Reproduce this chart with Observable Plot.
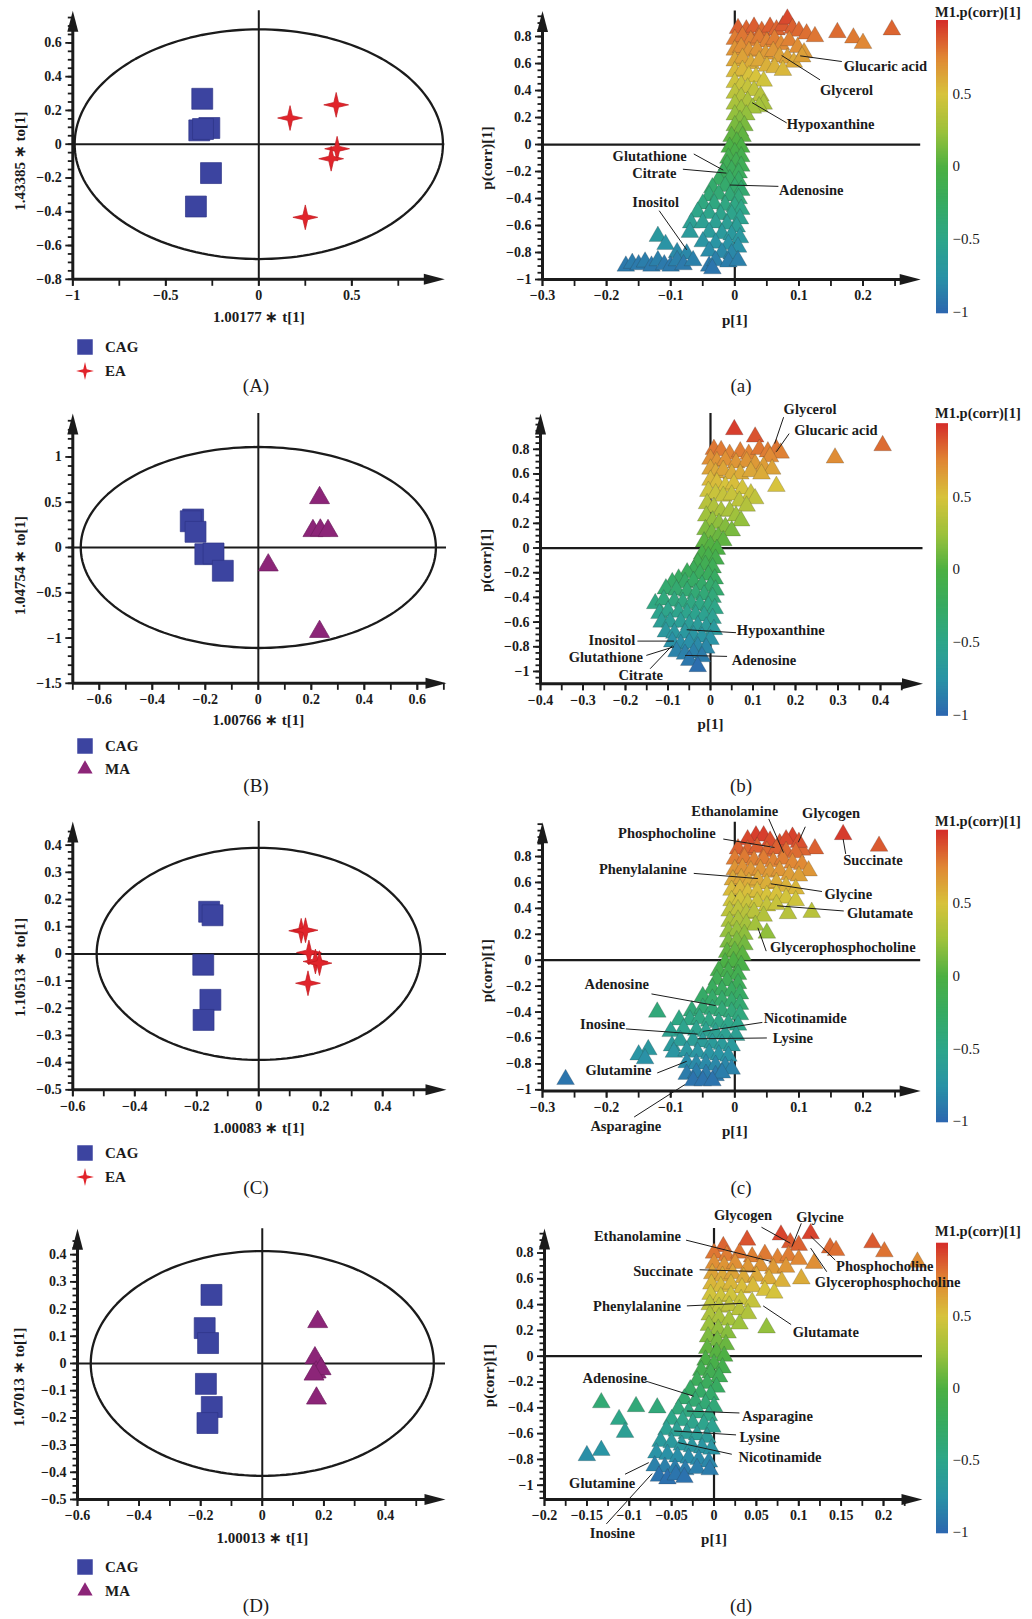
<!DOCTYPE html>
<html><head><meta charset="utf-8">
<script src="https://cdn.jsdelivr.net/npm/d3@7"></script>
<script src="https://cdn.jsdelivr.net/npm/@observablehq/plot@0.6"></script>
<style>
html,body{margin:0;padding:0;background:#fff;}
#root{position:relative;width:1032px;height:1619px;overflow:hidden;font-family:"Liberation Serif","Times New Roman",serif;color:#1b1b1b;}
.t{position:absolute;white-space:nowrap;line-height:1;transform:translate(-50%,-50%);}
.l{position:absolute;white-space:nowrap;line-height:1;transform:translate(0,-50%);font-weight:bold;font-size:15px;}
</style></head><body><div id="root"></div>
<script>
// ---------------- DATA ----------------
const groupNames = ["CAG", "EA", "MA"];
const groupColors = ["#3c44a0", "#e1242b", "#8c2578"];

// Score plots: [t[1], to[1]]
const scoreA_CAG = [[-0.304,0.269],[-0.266,0.096],[-0.32,0.082],[-0.30,0.09],[-0.257,-0.171],[-0.338,-0.369]];
const scoreA_EA  = [[0.168,0.155],[0.416,0.233],[0.421,-0.027],[0.389,-0.086],[0.25,-0.433]];
const scoreB_CAG = [[-0.246,0.309],[-0.255,0.29],[-0.237,0.173],[-0.2,-0.074],[-0.169,-0.066],[-0.134,-0.257]];
const scoreB_MA  = [[0.231,0.548],[0.206,0.184],[0.234,0.19],[0.263,0.184],[0.0375,-0.195],[0.231,-0.93]];
const scoreC_CAG = [[-0.16,0.155],[-0.149,0.142],[-0.179,-0.04],[-0.156,-0.169],[-0.178,-0.243]];
const scoreC_EA  = [[0.137,0.085],[0.151,0.087],[0.162,0.005],[0.183,-0.028],[0.196,-0.034],[0.159,-0.108]];
const scoreD_CAG = [[-0.165,0.252],[-0.187,0.13],[-0.176,0.075],[-0.183,-0.075],[-0.164,-0.16],[-0.178,-0.219]];
const scoreD_MA  = [[0.18,0.153],[0.171,0.02],[0.175,-0.032],[0.191,-0.02],[0.168,-0.04],[0.176,-0.128]];
// Hotelling ellipse semi-axes [t, to]
const ellipseA = [0.99, 0.68], ellipseB = [0.67, 1.11], ellipseC = [0.523, 0.39], ellipseD = [0.557, 0.413];
const axisTitlesX = ["1.00177 \u2217 t[1]", "1.00766 \u2217 t[1]", "1.00083 \u2217 t[1]", "1.00013 \u2217 t[1]"];
const axisTitlesY = ["1.43385 \u2217 to[1]", "1.04754 \u2217 to[1]", "1.10513 \u2217 to[1]", "1.07013 \u2217 to[1]"];
const captionsUpper = ["(A)", "(B)", "(C)", "(D)"];
const captionsLower = ["(a)", "(b)", "(c)", "(d)"];

// S-plots: [p[1], p(corr)[1]]
const splotA = [
[0.005,0.86],[0.018,0.85],[0.03,0.87],[0.042,0.84],[0.055,0.87],[0.065,0.85],[0.075,0.88],[0.082,0.93],[0.09,0.86],[0.1,0.84],[0.112,0.82],[0.125,0.8],[0.16,0.83],[0.185,0.79],[0.2,0.75],[0.245,0.85],
[0.0,0.78],[0.012,0.8],[0.025,0.77],[0.038,0.79],[0.05,0.76],[0.062,0.78],[0.072,0.74],[0.085,0.77],[0.098,0.72],[0.108,0.68],
[0.0,0.7],[0.01,0.72],[0.022,0.69],[0.035,0.7],[0.048,0.67],[0.06,0.69],[0.07,0.65],[0.082,0.64],[0.092,0.61],[0.105,0.65],
[0.0,0.62],[0.012,0.64],[0.025,0.6],[0.038,0.62],[0.05,0.58],[0.062,0.57],[0.075,0.55],
[0.0,0.54],[0.012,0.55],[0.022,0.51],[0.033,0.5],[0.045,0.47],
[0.0,0.46],[0.01,0.44],[0.02,0.42],[0.03,0.4],[0.04,0.36],[0.045,0.3],[0.038,0.28],
[0.0,0.38],[0.01,0.35],[0.02,0.32],[0.028,0.27],
[0.0,0.3],[0.01,0.26],[0.018,0.22],[0.0,0.22],[0.008,0.18],[0.015,0.14],[0.0,0.14],[0.008,0.1],[0.012,0.06],
[-0.005,0.06],[0.003,0.02],[0.01,-0.02],[-0.008,-0.02],[0.0,-0.06],[0.01,-0.09],[-0.01,-0.1],[0.002,-0.13],[0.01,-0.16],[-0.012,-0.15],[-0.005,-0.19],[0.006,-0.21],[-0.018,-0.21],
[-0.025,-0.26],[-0.008,-0.26],[0.006,-0.27],[-0.035,-0.32],[-0.015,-0.31],[0.0,-0.32],[0.01,-0.34],[-0.04,-0.38],[-0.025,-0.37],[-0.008,-0.38],[0.006,-0.4],
[-0.05,-0.44],[-0.032,-0.44],[-0.015,-0.45],[0.0,-0.46],[0.01,-0.48],[-0.058,-0.5],[-0.04,-0.51],[-0.022,-0.52],[-0.005,-0.52],[0.008,-0.55],
[-0.068,-0.58],[-0.05,-0.58],[-0.03,-0.58],[-0.012,-0.59],[0.003,-0.61],[-0.07,-0.65],[-0.04,-0.65],[-0.02,-0.66],[-0.005,-0.67],[0.008,-0.69],
[-0.12,-0.68],[-0.108,-0.74],[-0.05,-0.72],[-0.03,-0.73],[-0.01,-0.74],[0.005,-0.76],
[-0.09,-0.8],[-0.075,-0.81],[-0.04,-0.79],[-0.02,-0.8],[-0.005,-0.81],
[-0.17,-0.9],[-0.16,-0.88],[-0.15,-0.89],[-0.14,-0.87],[-0.13,-0.9],[-0.12,-0.86],[-0.11,-0.89],[-0.1,-0.9],[-0.09,-0.86],[-0.08,-0.89],[-0.065,-0.86],[-0.04,-0.9],[-0.03,-0.86],[-0.01,-0.87],[0.005,-0.86],[-0.035,-0.92]
];
const splotB = [
[0.056,0.96],[0.105,0.9],[0.293,0.73],[0.405,0.83],
[0.008,0.8],[0.025,0.79],[0.045,0.76],[0.07,0.78],[0.09,0.76],[0.115,0.8],[0.135,0.78],[0.155,0.8],[0.165,0.77],[0.14,0.74],
[0.0,0.72],[0.015,0.7],[0.035,0.71],[0.06,0.69],[0.085,0.7],[0.105,0.68],[0.125,0.66],[0.145,0.64],
[0.0,0.64],[0.012,0.61],[0.03,0.63],[0.05,0.6],[0.07,0.6],[0.095,0.62],[0.12,0.6],[0.155,0.5],
[0.0,0.55],[0.015,0.53],[0.035,0.5],[0.055,0.52],[0.075,0.48],[0.095,0.44],[0.105,0.4],
[-0.005,0.46],[0.012,0.44],[0.03,0.42],[0.05,0.43],[0.068,0.38],[0.085,0.34],
[-0.008,0.36],[0.008,0.33],[0.025,0.3],[0.045,0.3],[0.06,0.26],[0.072,0.22],
[-0.01,0.26],[0.005,0.22],[0.02,0.2],[0.035,0.17],[0.05,0.14],
[-0.012,0.15],[0.003,0.12],[0.018,0.09],[0.03,0.06],[-0.015,0.05],[0.0,0.02],[0.015,-0.01],
[-0.02,-0.05],[-0.005,-0.07],[0.012,-0.09],[-0.03,-0.12],[-0.012,-0.14],[0.005,-0.16],
[-0.04,-0.18],[-0.055,-0.2],[-0.025,-0.21],[-0.005,-0.22],[0.01,-0.25],
[-0.075,-0.25],[-0.09,-0.28],[-0.06,-0.28],[-0.04,-0.27],[-0.02,-0.3],[0.0,-0.31],[0.012,-0.34],
[-0.105,-0.33],[-0.08,-0.34],[-0.055,-0.35],[-0.035,-0.37],[-0.015,-0.38],[0.005,-0.4],
[-0.13,-0.45],[-0.11,-0.42],[-0.085,-0.43],[-0.065,-0.44],[-0.045,-0.45],[-0.025,-0.46],[-0.005,-0.47],[0.01,-0.49],
[-0.12,-0.53],[-0.1,-0.51],[-0.075,-0.52],[-0.055,-0.53],[-0.035,-0.54],[-0.015,-0.55],[0.005,-0.57],
[-0.115,-0.6],[-0.095,-0.6],[-0.07,-0.6],[-0.05,-0.62],[-0.03,-0.63],[-0.01,-0.64],[0.008,-0.66],
[-0.105,-0.68],[-0.085,-0.69],[-0.06,-0.69],[-0.04,-0.71],[-0.02,-0.72],[0.0,-0.74],
[-0.09,-0.76],[-0.07,-0.78],[-0.05,-0.77],[-0.03,-0.8],[-0.01,-0.81],
[-0.08,-0.84],[-0.06,-0.86],[-0.04,-0.85],[-0.02,-0.88],[-0.05,-0.91],[-0.03,-0.96]
];
const splotC = [
[0.169,0.97],[0.225,0.88],[0.033,0.96],[0.045,0.96],[0.09,0.95],[0.125,0.86],[0.105,0.85],
[0.02,0.93],[0.055,0.92],[0.07,0.9],[0.08,0.93],[0.1,0.91],
[0.005,0.86],[0.02,0.85],[0.035,0.87],[0.05,0.84],[0.065,0.86],[0.08,0.84],[0.095,0.83],
[0.0,0.78],[0.015,0.79],[0.03,0.77],[0.045,0.78],[0.06,0.76],[0.075,0.78],[0.09,0.75],[0.105,0.74],[0.115,0.69],
[0.0,0.7],[0.012,0.71],[0.025,0.69],[0.04,0.7],[0.055,0.68],[0.07,0.69],[0.085,0.66],[0.1,0.65],
[-0.003,0.62],[0.01,0.63],[0.022,0.6],[0.036,0.62],[0.05,0.59],[0.065,0.6],[0.08,0.57],[0.095,0.55],
[-0.005,0.54],[0.008,0.55],[0.02,0.52],[0.035,0.53],[0.05,0.5],[0.065,0.51],[0.08,0.48],[0.095,0.46],
[-0.005,0.46],[0.008,0.47],[0.02,0.44],[0.035,0.45],[0.05,0.42],[0.065,0.43],[0.083,0.36],[0.12,0.37],
[-0.008,0.38],[0.005,0.39],[0.018,0.36],[0.03,0.37],[0.045,0.34],
[-0.008,0.3],[0.005,0.31],[0.018,0.28],[0.032,0.27],[0.05,0.21],
[-0.01,0.22],[0.003,0.23],[0.015,0.2],[-0.01,0.14],[0.003,0.15],[0.015,0.12],
[-0.012,0.06],[0.0,0.07],[0.012,0.04],[-0.015,-0.02],[-0.002,-0.01],[0.01,-0.04],
[-0.025,-0.08],[-0.01,-0.09],[0.005,-0.11],[-0.028,-0.15],[-0.012,-0.16],[0.005,-0.18],
[-0.035,-0.22],[-0.02,-0.23],[-0.005,-0.24],[0.008,-0.26],
[-0.05,-0.28],[-0.035,-0.3],[-0.02,-0.31],[-0.005,-0.32],[0.008,-0.34],
[-0.067,-0.39],[-0.121,-0.4],[-0.05,-0.37],[-0.035,-0.38],[-0.02,-0.39],[-0.005,-0.4],[0.008,-0.42],
[-0.087,-0.46],[-0.07,-0.46],[-0.055,-0.45],[-0.04,-0.47],[-0.025,-0.48],[-0.01,-0.49],[0.005,-0.5],
[-0.1,-0.55],[-0.08,-0.53],[-0.06,-0.54],[-0.045,-0.55],[-0.03,-0.56],[-0.015,-0.57],[0.002,-0.58],
[-0.098,-0.66],[-0.085,-0.62],[-0.065,-0.62],[-0.05,-0.63],[-0.035,-0.64],[-0.02,-0.65],[-0.005,-0.66],
[-0.135,-0.69],[-0.15,-0.73],[-0.14,-0.76],[-0.095,-0.71],[-0.075,-0.7],[-0.058,-0.71],[-0.04,-0.72],[-0.025,-0.73],[-0.01,-0.74],
[-0.075,-0.79],[-0.06,-0.8],[-0.045,-0.8],[-0.03,-0.81],[-0.015,-0.82],[-0.005,-0.84],
[-0.075,-0.88],[-0.06,-0.87],[-0.045,-0.88],[-0.03,-0.89],[-0.02,-0.87],[-0.065,-0.93],[-0.05,-0.93],[-0.035,-0.93],
[-0.264,-0.92]
];
const splotD = [
[0.011,0.85],[0.039,0.9],[0.079,0.94],[0.114,0.95],[0.09,0.88],[0.1,0.86],[0.137,0.84],[0.144,0.82],[0.187,0.88],[0.201,0.81],[0.24,0.73],[0.118,0.72],
[0.0,0.8],[0.015,0.78],[0.03,0.8],[0.045,0.77],[0.06,0.79],[0.075,0.76],[0.088,0.78],[0.1,0.75],
[0.0,0.72],[0.012,0.7],[0.025,0.72],[0.04,0.69],[0.055,0.7],[0.07,0.68],[0.085,0.69],
[-0.002,0.64],[0.01,0.62],[0.022,0.64],[0.035,0.61],[0.05,0.62],[0.065,0.6],[0.08,0.58],[0.103,0.6],
[-0.003,0.56],[0.008,0.54],[0.02,0.56],[0.033,0.53],[0.046,0.54],[0.06,0.51],[0.071,0.49],
[-0.004,0.48],[0.008,0.46],[0.02,0.47],[0.032,0.44],[0.045,0.42],
[-0.005,0.4],[0.006,0.38],[0.018,0.39],[0.03,0.36],[0.04,0.33],
[-0.005,0.32],[0.006,0.3],[0.018,0.28],[0.03,0.25],[0.062,0.22],
[-0.006,0.24],[0.005,0.21],[0.016,0.18],[-0.007,0.15],[0.004,0.12],[0.014,0.09],
[-0.008,0.06],[0.003,0.03],[0.012,0.0],[-0.01,-0.03],[0.0,-0.06],[0.01,-0.09],
[-0.015,-0.11],[-0.004,-0.13],[0.006,-0.16],[-0.02,-0.19],[-0.008,-0.21],[0.003,-0.24],
[-0.028,-0.26],[-0.016,-0.28],[-0.004,-0.3],[-0.035,-0.33],[-0.022,-0.35],[-0.01,-0.37],[0.0,-0.39],
[-0.042,-0.41],[-0.03,-0.43],[-0.018,-0.44],[-0.006,-0.46],
[-0.05,-0.49],[-0.037,-0.5],[-0.025,-0.52],[-0.012,-0.53],[-0.002,-0.55],
[-0.056,-0.57],[-0.044,-0.58],[-0.032,-0.6],[-0.02,-0.61],[-0.008,-0.63],
[-0.063,-0.66],[-0.05,-0.67],[-0.038,-0.69],[-0.026,-0.7],[-0.014,-0.71],[-0.003,-0.72],
[-0.068,-0.75],[-0.055,-0.76],[-0.043,-0.78],[-0.03,-0.79],[-0.018,-0.8],[-0.006,-0.82],
[-0.07,-0.85],[-0.058,-0.86],[-0.046,-0.87],[-0.034,-0.88],[-0.02,-0.87],[-0.005,-0.88],
[-0.065,-0.93],[-0.055,-0.95],[-0.045,-0.92],[-0.035,-0.94],
[-0.133,-0.36],[-0.092,-0.39],[-0.067,-0.4],[-0.112,-0.49],[-0.105,-0.59],[-0.15,-0.77],[-0.133,-0.73]
];

// Annotations: [name, anchor, textX, textY, leaderFromX, leaderFromY, leaderToX, leaderToY]
const labelsA = [
["Glucaric acid","start",0.17,0.58,0.167,0.615,0.102,0.657],
["Glycerol","start",0.133,0.405,0.133,0.479,0.073,0.66],
["Hypoxanthine","start",0.081,0.146,0.081,0.16,0.027,0.31],
["Glutathione","end",-0.075,-0.084,-0.064,-0.07,-0.018,-0.19],
["Citrate","end",-0.091,-0.212,-0.081,-0.183,-0.013,-0.212],
["Adenosine","start",0.069,-0.336,0.068,-0.31,-0.008,-0.30],
["Inositol","end",-0.087,-0.43,-0.118,-0.49,-0.075,-0.78]
];
const labelsB = [
["Glycerol","start",0.172,1.12,0.172,1.06,0.151,0.846],
["Glucaric acid","start",0.197,0.954,0.185,0.927,0.155,0.78],
["Hypoxanthine","start",0.062,-0.668,0.06,-0.686,-0.056,-0.662],
["Inositol","end",-0.177,-0.749,-0.172,-0.754,-0.086,-0.754],
["Glutathione","end",-0.159,-0.889,-0.151,-0.87,-0.086,-0.8],
["Citrate","end",-0.112,-1.03,-0.142,-0.978,-0.09,-0.79],
["Adenosine","start",0.05,-0.91,0.039,-0.878,-0.06,-0.87]
];
const labelsC = [
["Ethanolamine","start",-0.068,1.15,0.053,1.09,0.076,0.83],
["Glycogen","start",0.105,1.13,0.11,1.03,0.099,0.91],
["Phosphocholine","end",-0.03,0.98,-0.018,0.935,0.062,0.87],
["Succinate","start",0.169,0.77,0.173,0.82,0.169,0.935],
["Phenylalanine","end",-0.075,0.70,-0.064,0.67,0.036,0.63],
["Glycine","start",0.14,0.51,0.136,0.53,0.056,0.59],
["Glutamate","start",0.175,0.363,0.17,0.38,0.066,0.42],
["Glycerophosphocholine","start",0.055,0.1,0.049,0.07,0.036,0.25],
["Adenosine","end",-0.134,-0.19,-0.13,-0.26,-0.03,-0.35],
["Nicotinamide","start",0.045,-0.45,0.043,-0.48,-0.05,-0.55],
["Inosine","end",-0.171,-0.495,-0.17,-0.53,-0.058,-0.57],
["Lysine","start",0.059,-0.6,0.05,-0.6,-0.058,-0.606],
["Glutamine","end",-0.13,-0.85,-0.121,-0.87,-0.075,-0.78],
["Asparagine","middle",-0.17,-1.28,-0.157,-1.21,-0.078,-0.96]
];
const labelsD = [
["Glycogen","start",0.0,1.09,0.056,1.0,0.09,0.876],
["Glycine","start",0.097,1.08,0.103,1.03,0.092,0.85],
["Ethanolamine","end",-0.039,0.93,-0.033,0.9,0.067,0.735],
["Phosphocholine","start",0.144,0.70,0.143,0.745,0.114,0.93],
["Glycerophosphocholine","start",0.119,0.57,0.133,0.655,0.114,0.838],
["Succinate","end",-0.025,0.66,-0.017,0.67,0.049,0.657],
["Phenylalanine","end",-0.039,0.39,-0.032,0.39,0.034,0.41],
["Glutamate","start",0.093,0.188,0.091,0.245,0.058,0.39],
["Adenosine","end",-0.079,-0.175,-0.082,-0.19,-0.024,-0.31],
["Asparagine","start",0.033,-0.464,0.03,-0.44,-0.032,-0.425],
["Lysine","start",0.03,-0.63,0.026,-0.61,-0.047,-0.58],
["Nicotinamide","start",0.029,-0.786,0.021,-0.76,-0.042,-0.67],
["Glutamine","end",-0.093,-0.985,-0.105,-0.915,-0.077,-0.825],
["Inosine","middle",-0.12,-1.37,-0.127,-1.3,-0.073,-0.91]
];
const colorbarTicks = [-1, -0.5, 0, 0.5];
const colorbarTitle = "M1.p(corr)[1]";
const corrStops = [-1,-0.75,-0.5,-0.25,0,0.25,0.5,0.75,1];
const corrColors = ["#2d67b0","#2a93a6","#2ea68a","#37ab62","#4db043","#9ec23c","#d7c33c","#e08835","#d5302b"];

// ---------------- HELPERS ----------------
const INK = "#1b1b1b";
const root = document.getElementById("root");
const fmt = d => { const v = Math.round(d * 1000) / 1000; return v === 0 ? "0" : (v < 0 ? "\u2212" : "") + String(Math.abs(v)); };
const rng = (a, b, s) => d3.range(Math.round((b - a) / s) + 1).map(i => Math.round((a + i * s) * 1000) / 1000);
const corrScale = {type: "linear", domain: corrStops, range: corrColors, interpolate: "rgb"};

const arrowUp = {draw(ctx) { ctx.moveTo(0, 0); ctx.lineTo(-5.5, 21); ctx.lineTo(5.5, 21); ctx.closePath(); }};
const arrowRight = {draw(ctx) { ctx.moveTo(0, 0); ctx.lineTo(-21, -5.5); ctx.lineTo(-21, 5.5); ctx.closePath(); }};
const star4 = {draw(ctx, size) {
  const R = Math.sqrt(size / Math.PI) * 2, r = R * 0.27;
  for (let i = 0; i < 8; i++) {
    const a = i * Math.PI / 4 - Math.PI / 2, rad = i % 2 === 0 ? R : r;
    const x = rad * Math.cos(a), y = rad * Math.sin(a);
    if (i === 0) ctx.moveTo(x, y); else ctx.lineTo(x, y);
  }
  ctx.closePath();
}};

function box(svgL, svgT, svgW, svgH, fx0, fx1, fy0, fy1) {
  return {width: svgW, height: svgH, marginLeft: fx0 - svgL, marginRight: svgL + svgW - fx1,
          marginTop: fy0 - svgT, marginBottom: svgT + svgH - fy1, _l: svgL, _t: svgT};
}
function mount(svg, b) {
  svg.style.position = "absolute";
  svg.style.left = b._l + "px";
  svg.style.top = b._t + "px";
  root.appendChild(svg);
}
const baseStyle = {fontFamily: "'Liberation Serif','Times New Roman',serif", fontSize: "14px", fontWeight: "700",
  color: INK, background: "transparent", overflow: "visible"};

function axes(p) {
  const [x0, x1] = p.xDomain, [y0, y1] = p.yDomain;
  return [
    Plot.ruleX([x0], {stroke: INK, strokeWidth: 3, insetTop: 14}),
    Plot.ruleY([y0], {stroke: INK, strokeWidth: 3, insetRight: 14}),
    Plot.dot([{x: x0, y: y1}], {x: "x", y: "y", symbol: arrowUp, r: 5, fill: INK}),
    Plot.dot([{x: x1, y: y0}], {x: "x", y: "y", symbol: arrowRight, r: 5, fill: INK}),
    Plot.axisX({ticks: p.xMinor, tickSize: 7, tickFormat: () => "", strokeWidth: 1.8, label: null}),
    Plot.axisX({ticks: p.xMajor, tickSize: 7, tickPadding: 4, tickFormat: fmt, strokeWidth: 1.8, label: null}),
    Plot.axisY({ticks: p.yMinor, tickSize: 4.5, tickFormat: () => "", strokeWidth: 1.8, label: null}),
    Plot.axisY({ticks: p.yMajor, tickSize: 7, tickPadding: 4, tickFormat: fmt, strokeWidth: 1.8, label: null})
  ];
}
function titles(p) {
  return [
    Plot.text([{x: 0, t: p.xTitle}], {x: "x", text: "t", frameAnchor: "bottom", dy: p.xTitleDy,
      textAnchor: "middle", lineAnchor: "middle", fontSize: 15, fontWeight: "bold"}),
    Plot.text([{y: p.yTitleAt, t: p.yTitle}], {y: "y", text: "t", frameAnchor: "left", dx: p.yTitleDx, rotate: -90,
      textAnchor: "middle", lineAnchor: "middle", fontSize: 15, fontWeight: "bold"})
  ];
}

function scorePanel(p) {
  const b = p.box;
  const ell = d3.range(0, 361, 2).map(t => [p.ellipse[0] * Math.cos(t * Math.PI / 180), p.ellipse[1] * Math.sin(t * Math.PI / 180)]);
  const svg = Plot.plot({
    ...b, style: baseStyle,
    x: {domain: p.xDomain}, y: {domain: p.yDomain},
    marks: [
      Plot.line(ell, {x: d => d[0], y: d => d[1], stroke: INK, strokeWidth: 2.3}),
      Plot.ruleX([0], {stroke: INK, strokeWidth: 2}),
      Plot.ruleY([0], {stroke: INK, strokeWidth: 2}),
      ...axes(p),
      ...p.groups.map(g => Plot.dot(g.data, {x: d => d[0], y: d => d[1], symbol: g.symbol, r: g.r, fill: g.fill, stroke: g.stroke, strokeWidth: 0.7})),
      ...titles(p)
    ]
  });
  mount(svg, b);
}

function sPanel(p) {
  const b = p.box;
  const L = p.labels.map(d => ({name: d[0], anchor: d[1], tx: d[2], ty: d[3], x1: d[4], y1: d[5], x2: d[6], y2: d[7]}));
  const svg = Plot.plot({
    ...b, style: baseStyle,
    x: {domain: p.xDomain}, y: {domain: p.yDomain}, color: corrScale,
    marks: [
      Plot.ruleX([0], {stroke: INK, strokeWidth: 2.2}),
      Plot.ruleY([0], {stroke: INK, strokeWidth: 2.2}),
      ...axes(p),
      Plot.dot(p.data, {x: d => d[0], y: d => d[1], fill: d => d[1], symbol: "triangle", r: 6.6, stroke: "rgba(50,50,50,0.35)", strokeWidth: 0.6}),
      Plot.link(L, {x1: "x1", y1: "y1", x2: "x2", y2: "y2", stroke: INK, strokeWidth: 1}),
      ...["start", "middle", "end"].map(a => Plot.text(L.filter(d => d.anchor === a), {x: "tx", y: "ty", text: "name", textAnchor: a, fontSize: 14.5, fontWeight: "bold"})),
      ...titles(p)
    ]
  });
  mount(svg, b);
}

function colorbar(b, titleY) {
  const vals = rng(-1, 1, 0.004);
  const svg = Plot.plot({
    ...b, style: {...baseStyle, fontWeight: "400", fontSize: "15px"},
    y: {domain: [-1, 1]}, color: corrScale,
    marks: [
      Plot.ruleY(vals, {y: d => d, stroke: d => d, strokeWidth: 1.6}),
      Plot.axisY({anchor: "right", ticks: colorbarTicks, tickSize: 0, tickPadding: 4, tickFormat: fmt, label: null})
    ]
  });
  mount(svg, b);
  const t = document.createElement("div");
  t.className = "l"; t.textContent = colorbarTitle;
  t.style.left = "935px"; t.style.top = titleY + "px"; t.style.fontSize = "14.5px";
  root.appendChild(t);
}

function symbolSvg(sym, size, color) {
  const path = d3.path();
  const s = sym === "star" ? star4 : sym === "square" ? d3.symbolSquare : d3.symbolTriangle;
  s.draw(path, size);
  return `<svg width="24" height="24" viewBox="-12 -12 24 24" style="position:absolute;left:-12px;top:-12px"><path d="${path}" fill="${color}"/></svg>`;
}
function legend(items, y0, y1) {
  items.forEach((it, i) => {
    const y = i === 0 ? y0 : y1;
    const s = document.createElement("div");
    s.style.position = "absolute"; s.style.left = "85px"; s.style.top = y + "px";
    s.innerHTML = symbolSvg(it.sym, it.size, it.color);
    root.appendChild(s);
    const t = document.createElement("div");
    t.className = "l"; t.textContent = it.name;
    t.style.left = "105px"; t.style.top = y + "px";
    root.appendChild(t);
  });
}
function caption(txt, x, y) {
  const d = document.createElement("div");
  d.className = "t"; d.textContent = txt;
  d.style.left = x + "px"; d.style.top = y + "px"; d.style.fontSize = "19px";
  root.appendChild(d);
}

// ---------------- BUILD ----------------
// colour bars first, so the S-plot labels are drawn over them as in the original
colorbar(box(920, 0, 112, 335, 936, 948, 20.3, 312), 11.5);
colorbar(box(920, 400, 112, 335, 936, 948, 423.5, 714.5), 413);
colorbar(box(920, 800, 112, 345, 936, 948, 830, 1121), 821);
colorbar(box(920, 1200, 112, 350, 936, 948, 1243, 1532), 1231);

const CAG = {fill: groupColors[0], stroke: "#2e3587", symbol: "square", r: 11.8};
const EA = {fill: groupColors[1], stroke: "#c01a20", symbol: star4, r: 6.2};
const MA = {fill: groupColors[2], stroke: "#6e1c5e", symbol: "triangle", r: 7.4};

scorePanel({box: box(0, 0, 470, 335, 72.3, 444.3, 10.3, 278.8), xDomain: [-1, 1.0], yDomain: [-0.8, 0.79],
  xMinor: rng(-1, 0.75, 0.25), xMajor: [-1, -0.5, 0, 0.5], yMinor: rng(-0.8, 0.75, 0.05), yMajor: rng(-0.8, 0.6, 0.2),
  ellipse: ellipseA, groups: [{...CAG, data: scoreA_CAG}, {...EA, data: scoreA_EA}],
  xTitle: axisTitlesX[0], yTitle: axisTitlesY[0], xTitleDy: 38, yTitleDx: -53, yTitleAt: -0.1});
scorePanel({box: box(0, 400, 470, 335, 72.3, 446, 413, 682.8), xDomain: [-0.7, 0.71], yDomain: [-1.5, 1.48],
  xMinor: rng(-0.7, 0.7, 0.1), xMajor: rng(-0.6, 0.6, 0.2), yMinor: rng(-1.5, 1.4, 0.1), yMajor: rng(-1.5, 1, 0.5),
  ellipse: ellipseB, groups: [{...CAG, data: scoreB_CAG}, {...MA, data: scoreB_MA}],
  xTitle: axisTitlesX[1], yTitle: axisTitlesY[1], xTitleDy: 37, yTitleDx: -53, yTitleAt: -0.2});
scorePanel({box: box(0, 800, 470, 345, 72.3, 446, 821, 1089.3), xDomain: [-0.6, 0.606], yDomain: [-0.5, 0.487],
  xMinor: rng(-0.6, 0.5, 0.1), xMajor: rng(-0.6, 0.4, 0.2), yMinor: rng(-0.5, 0.45, 0.025), yMajor: rng(-0.5, 0.4, 0.1),
  ellipse: ellipseC, groups: [{...CAG, data: scoreC_CAG}, {...EA, data: scoreC_EA}],
  xTitle: axisTitlesX[2], yTitle: axisTitlesY[2], xTitleDy: 38, yTitleDx: -53, yTitleAt: -0.05});
scorePanel({box: box(0, 1200, 470, 350, 77, 445, 1228.3, 1499), xDomain: [-0.6, 0.595], yDomain: [-0.5, 0.495],
  xMinor: rng(-0.6, 0.5, 0.1), xMajor: rng(-0.6, 0.4, 0.2), yMinor: rng(-0.5, 0.45, 0.025), yMajor: rng(-0.5, 0.4, 0.1),
  ellipse: ellipseD, groups: [{...CAG, data: scoreD_CAG}, {...MA, data: scoreD_MA}],
  xTitle: axisTitlesX[3], yTitle: axisTitlesY[3], xTitleDy: 39, yTitleDx: -58, yTitleAt: -0.05});

const sTitles = {xTitle: "p[1]", yTitle: "p(corr)[1]"};
sPanel({...sTitles, box: box(460, 0, 540, 335, 542, 920.2, 10.4, 279), xDomain: [-0.3, 0.29], yDomain: [-1.0, 0.99],
  xMinor: rng(-0.3, 0.25, 0.05), xMajor: rng(-0.3, 0.2, 0.1), yMinor: rng(-1, 0.95, 0.05), yMajor: rng(-1, 0.8, 0.2),
  data: splotA, labels: labelsA, xTitleDy: 41, yTitleDx: -55, yTitleAt: -0.1});
sPanel({...sTitles, box: box(460, 400, 540, 335, 540, 922.5, 413, 683.3), xDomain: [-0.4, 0.5], yDomain: [-1.1, 1.09],
  xMinor: rng(-0.4, 0.45, 0.05), xMajor: rng(-0.4, 0.4, 0.1), yMinor: rng(-1.1, 1.05, 0.05), yMajor: rng(-1, 0.8, 0.2),
  data: splotB, labels: labelsB, xTitleDy: 40, yTitleDx: -54, yTitleAt: -0.1});
sPanel({...sTitles, box: box(460, 800, 540, 345, 542, 920.2, 821.7, 1090.6), xDomain: [-0.3, 0.29], yDomain: [-1.01, 1.065],
  xMinor: rng(-0.3, 0.25, 0.05), xMajor: rng(-0.3, 0.2, 0.1), yMinor: rng(-1, 1.05, 0.05), yMajor: rng(-1, 0.8, 0.2),
  data: splotC, labels: labelsC, xTitleDy: 40, yTitleDx: -55, yTitleAt: -0.08});
sPanel({...sTitles, box: box(460, 1200, 540, 350, 544, 922, 1228, 1498.9), xDomain: [-0.2, 0.246], yDomain: [-1.11, 0.99],
  xMinor: rng(-0.2, 0.225, 0.025), xMajor: rng(-0.2, 0.2, 0.05), yMinor: rng(-1.1, 0.95, 0.05), yMajor: rng(-1, 0.8, 0.2),
  data: splotD, labels: labelsD, xTitleDy: 40, yTitleDx: -55, yTitleAt: -0.15});

const legSym = {CAG: {sym: "square", size: 240, color: groupColors[0]}, EA: {sym: "star", size: Math.PI * 20, color: groupColors[1]}, MA: {sym: "triangle", size: 100, color: groupColors[2]}};
legend([{name: "CAG", ...legSym.CAG}, {name: "EA", ...legSym.EA}], 347, 371);
legend([{name: "CAG", ...legSym.CAG}, {name: "MA", ...legSym.MA}], 745.5, 769);
legend([{name: "CAG", ...legSym.CAG}, {name: "EA", ...legSym.EA}], 1153, 1177);
legend([{name: "CAG", ...legSym.CAG}, {name: "MA", ...legSym.MA}], 1567, 1591);

[385, 785, 1187, 1605].forEach((y, i) => { caption(captionsUpper[i], 256, y); caption(captionsLower[i], 741, y); });
</script></body></html>
